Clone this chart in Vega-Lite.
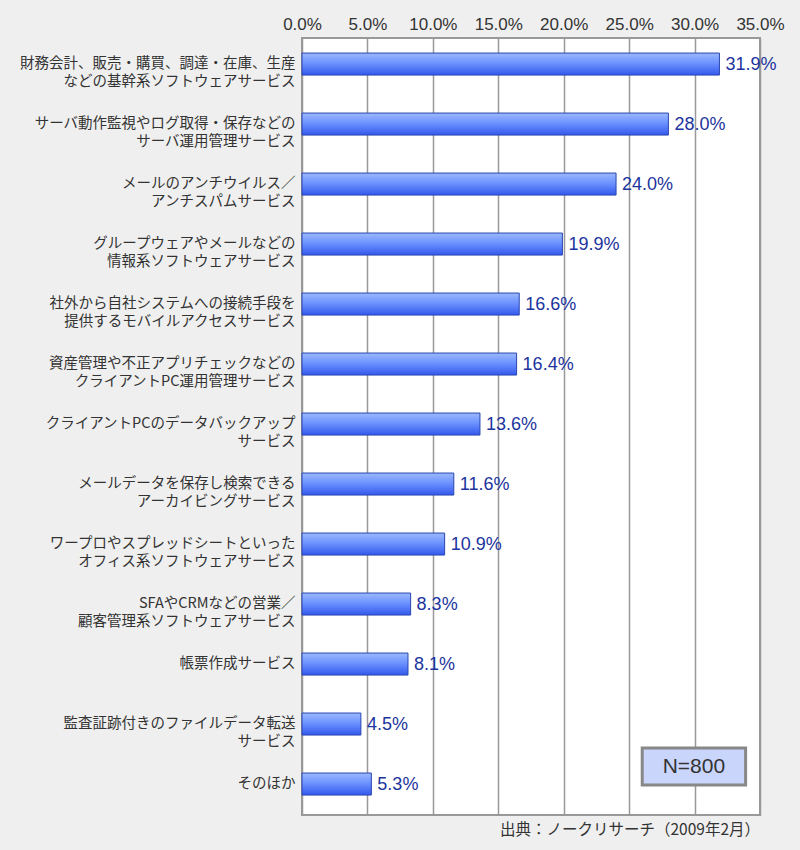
{
  "$schema": "https://vega.github.io/schema/vega-lite/v6.json",
  "width": 458,
  "height": 777,
  "autosize": {"type": "none"},
  "padding": {"left": 302, "top": 38, "right": 40, "bottom": 35},
  "background": "#efefef",
  "title": {
    "text": "出典：ノークリサーチ（2009年2月）",
    "orient": "bottom",
    "anchor": "end",
    "frame": "group",
    "offset": 8,
    "fontSize": 15.5,
    "fontWeight": "normal",
    "font": "Noto Sans CJK JP",
    "color": "#333333"
  },
  "config": {
    "view": {"stroke": "#999999", "strokeWidth": 2, "fill": "#ffffff"}
  },
  "datasets": {
    "rows": [
      {"item": "財務会計、販売・購買、調達・在庫、生産|などの基幹系ソフトウェアサービス", "share": 0.319},
      {"item": "サーバ動作監視やログ取得・保存などの|サーバ運用管理サービス", "share": 0.280},
      {"item": "メールのアンチウイルス／|アンチスパムサービス", "share": 0.240},
      {"item": "グループウェアやメールなどの|情報系ソフトウェアサービス", "share": 0.199},
      {"item": "社外から自社システムへの接続手段を|提供するモバイルアクセスサービス", "share": 0.166},
      {"item": "資産管理や不正アプリチェックなどの|クライアントPC運用管理サービス", "share": 0.164},
      {"item": "クライアントPCのデータバックアップ|サービス", "share": 0.136},
      {"item": "メールデータを保存し検索できる|アーカイビングサービス", "share": 0.116},
      {"item": "ワープロやスプレッドシートといった|オフィス系ソフトウェアサービス", "share": 0.109},
      {"item": "SFAやCRMなどの営業／|顧客管理系ソフトウェアサービス", "share": 0.083},
      {"item": "帳票作成サービス", "share": 0.081},
      {"item": "監査証跡付きのファイルデータ転送|サービス", "share": 0.045},
      {"item": "そのほか", "share": 0.053}
    ],
    "nbox": [
      {"x": 0.260, "x2": 0.339, "y": 0.5, "y2": 1.12, "xm": 0.2995, "ym": 0.81, "label": "N=800"}
    ]
  },
  "layer": [
    {
      "data": {"name": "rows"},
      "encoding": {
        "y": {
          "field": "item",
          "type": "nominal",
          "sort": null,
          "scale": {"paddingInner": 0.633, "paddingOuter": 0.2917, "align": 0.43},
          "axis": {
            "title": null,
            "domain": false,
            "ticks": false,
            "labelExpr": "split(datum.label, '|')",
            "labelFont": "Noto Sans CJK JP",
            "labelFontSize": 14.5,
            "labelLineHeight": 18,
            "labelColor": "#333333",
            "labelPadding": 7,
            "labelLimit": 400
          }
        },
        "x": {
          "field": "share",
          "type": "quantitative",
          "scale": {"domain": [0, 0.35], "nice": false},
          "axis": {
            "orient": "top",
            "title": null,
            "values": [0, 0.05, 0.1, 0.15, 0.2, 0.25, 0.3, 0.35],
            "format": ".1%",
            "domain": false,
            "ticks": false,
            "grid": true,
            "gridColor": "#999999",
            "gridWidth": 1.5,
            "gridOpacity": 1,
            "labelFont": "Liberation Sans",
            "labelFontSize": 17,
            "labelColor": "#333333",
            "labelPadding": 5,
            "labelFlush": false
          }
        }
      },
      "layer": [
        {
          "mark": {
            "type": "bar",
            "stroke": "#2a46b0",
            "strokeWidth": 1,
            "color": {
              "gradient": "linear",
              "x1": 0, "y1": 0, "x2": 0, "y2": 1,
              "stops": [
                {"offset": 0, "color": "#9bb8ff"},
                {"offset": 0.45, "color": "#6d93ff"},
                {"offset": 1, "color": "#3358ec"}
              ]
            }
          }
        },
        {
          "mark": {
            "type": "text",
            "align": "left",
            "baseline": "middle",
            "dx": 6,
            "dy": 1,
            "font": "Liberation Sans",
            "fontSize": 18,
            "color": "#1c349e"
          },
          "encoding": {
            "text": {"field": "share", "type": "quantitative", "format": ".1%"}
          }
        }
      ]
    },
    {
      "data": {"name": "nbox"},
      "layer": [
        {
          "mark": {"type": "rect", "fill": "#c9d5fb", "stroke": "#888888", "strokeWidth": 3},
          "encoding": {
            "x": {"field": "x", "type": "quantitative"},
            "x2": {"field": "x2"},
            "y": {"field": "y", "type": "quantitative", "scale": {"domain": [0, 13], "nice": false}, "axis": null},
            "y2": {"field": "y2"}
          }
        },
        {
          "mark": {"type": "text", "font": "Liberation Sans", "fontSize": 21, "color": "#333333", "baseline": "middle"},
          "encoding": {
            "x": {"field": "xm", "type": "quantitative"},
            "y": {"field": "ym", "type": "quantitative", "scale": {"domain": [0, 13], "nice": false}, "axis": null},
            "text": {"field": "label"}
          }
        }
      ]
    }
  ],
  "resolve": {"scale": {"y": "independent"}}
}
